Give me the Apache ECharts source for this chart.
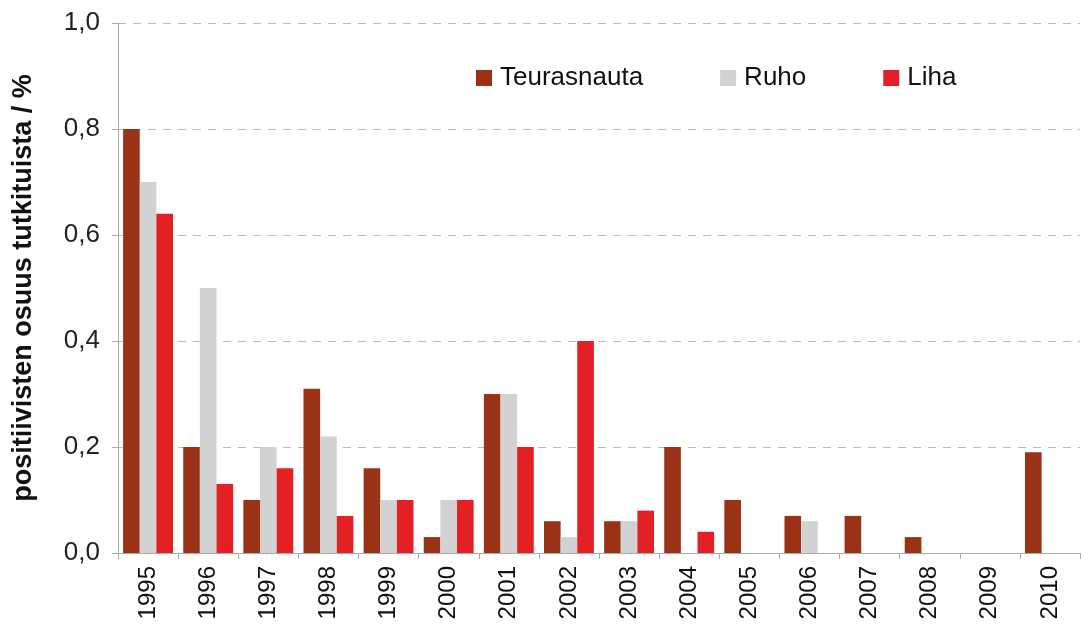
<!DOCTYPE html>
<html lang="fi">
<head>
    <meta charset="UTF-8">
    <title>Positiiviset</title>
    <style>
        html, body { margin: 0; padding: 0; background: #fff; }
        #chart { width: 1091px; height: 636px; }
    </style>
    <script src="https://cdn.jsdelivr.net/npm/echarts@6/dist/echarts.min.js"></script>
</head>
<body>
    <div id="chart"></div>
    <script>
        const years = ['1995', '1996', '1997', '1998', '1999', '2000', '2001', '2002',
            '2003', '2004', '2005', '2006', '2007', '2008', '2009', '2010'];
        const teurasnauta = [0.80, 0.20, 0.10, 0.31, 0.16, 0.03, 0.30, 0.06, 0.06, 0.20, 0.10, 0.07, 0.07, 0.03, 0, 0.19];
        const ruho = [0.70, 0.50, 0.20, 0.22, 0.10, 0.10, 0.30, 0.03, 0.06, 0, 0, 0.06, 0, 0, 0, 0];
        const liha = [0.64, 0.13, 0.16, 0.07, 0.10, 0.10, 0.20, 0.40, 0.08, 0.04, 0, 0, 0, 0, 0, 0];

        const font = 'Liberation Sans, Arial, sans-serif';
        const chart = echarts.init(document.getElementById('chart'));

        const bar = (name, data, color) => ({
            name: name,
            type: 'bar',
            data: data,
            barGap: '0%',
            barCategoryGap: '17%',
            itemStyle: { color: color },
            emphasis: { disabled: true }
        });

        chart.setOption({
            animation: false,
            textStyle: { fontFamily: font },
            grid: { left: 118, right: 11, top: 23, bottom: 83 },
            legend: {
                left: 471,
                top: 60,
                itemWidth: 16,
                itemHeight: 16,
                itemGap: 77,
                icon: 'rect',
                textStyle: { fontSize: 26, color: '#111', fontFamily: font, padding: [0, 0, 0, 3] },
                data: ['Teurasnauta', 'Ruho', 'Liha']
            },
            xAxis: {
                type: 'category',
                data: years,
                axisLine: { lineStyle: { color: '#aaa' } },
                axisTick: { show: true, length: 6, lineStyle: { color: '#aaa' } },
                axisLabel: { rotate: 90, fontSize: 24, color: '#111', margin: 13 }
            },
            yAxis: {
                type: 'value',
                min: 0,
                max: 1,
                interval: 0.2,
                name: 'positiivisten osuus tutkituista / %',
                nameLocation: 'middle',
                nameGap: 81,
                nameTextStyle: { fontSize: 27, fontWeight: 'bold', color: '#111' },
                axisLine: { show: true, lineStyle: { color: '#aaa' } },
                axisTick: { show: true, length: 6, lineStyle: { color: '#aaa' } },
                axisLabel: {
                    fontSize: 26,
                    color: '#222',
                    margin: 18,
                    formatter: v => v.toFixed(1).replace('.', ',')
                },
                splitLine: { lineStyle: { color: '#bbb', type: [8, 7] } }
            },
            series: [
                bar('Teurasnauta', teurasnauta, '#9A3316'),
                bar('Ruho', ruho, '#D2D2D2'),
                bar('Liha', liha, '#E32124')
            ]
        });
    </script>
</body>
</html>
